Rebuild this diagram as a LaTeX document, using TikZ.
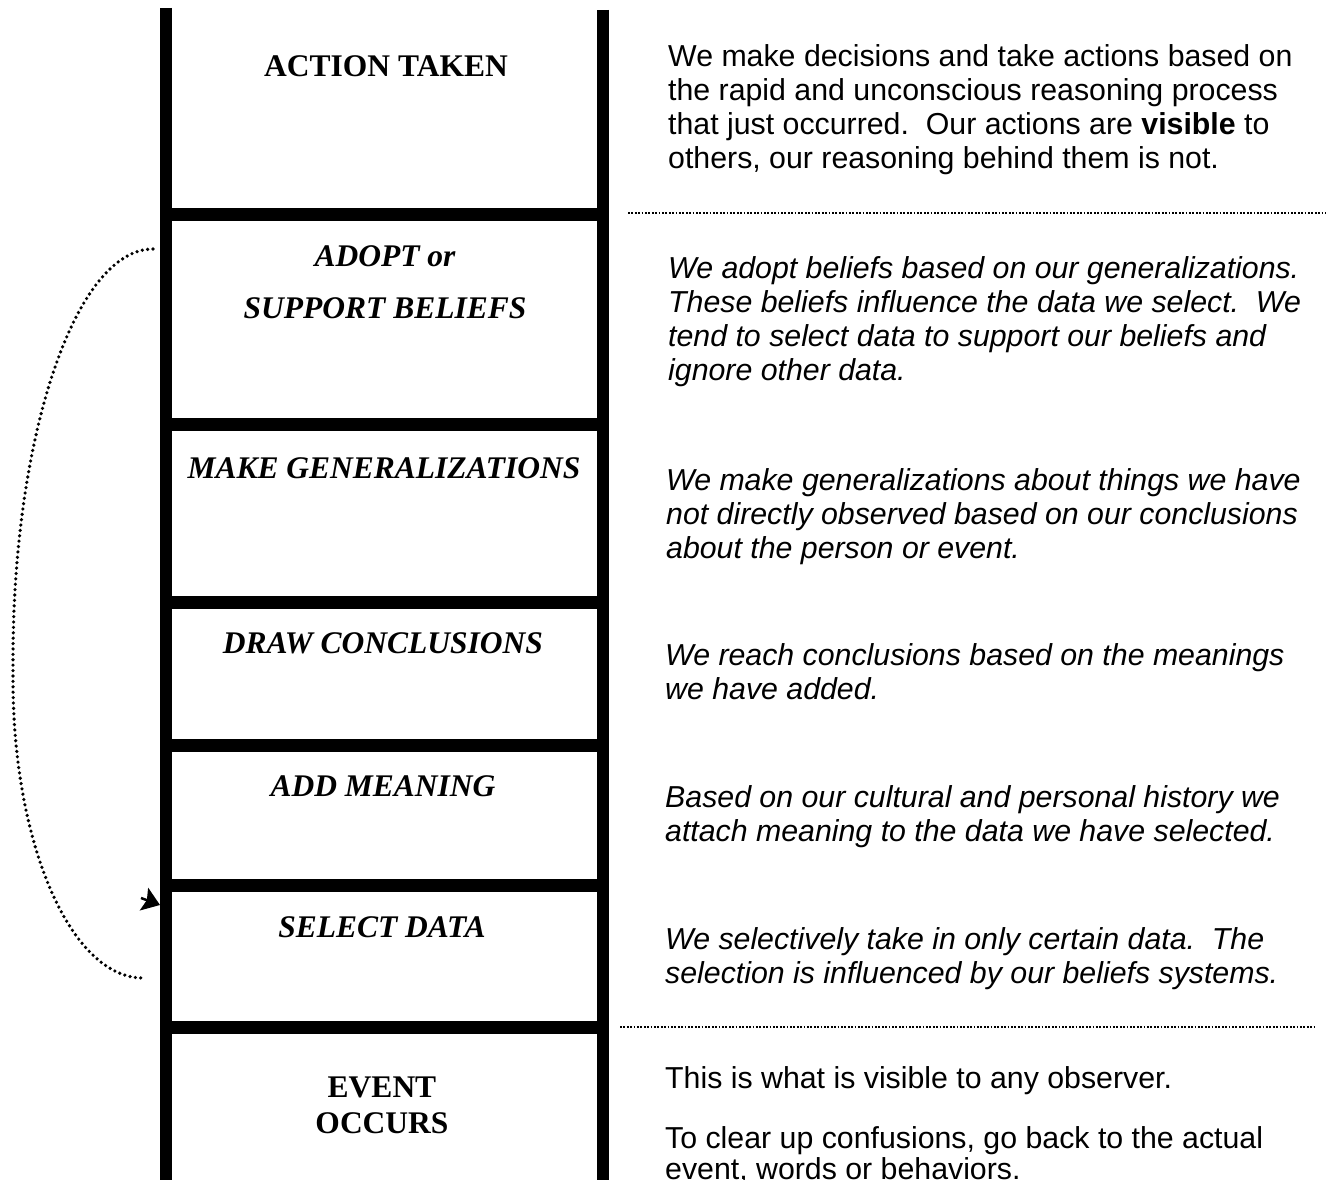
\documentclass[tikz,border=0pt]{standalone}
\usepackage{fontspec}
\setmainfont{Liberation Serif}
\newfontfamily\descfont{Liberation Sans}
\usetikzlibrary{arrows.meta}

\begin{document}
\begin{tikzpicture}[x=1pt,y=-1pt,
  rail/.style={line width=12pt},
  rung/.style={line width=13pt},
  rungtitle/.style={font=\fontsize{31.5}{36}\selectfont\bfseries, anchor=base, inner sep=0pt},
  rungtitleit/.style={rungtitle, font=\fontsize{31.5}{36}\selectfont\bfseries\itshape},
  desc/.style={font=\descfont\fontsize{30.3}{34}\selectfont, anchor=base west, inner sep=0pt},
  descit/.style={desc, font=\descfont\fontsize{30.3}{34}\selectfont\itshape},
  sepline/.style={line width=2.6pt, dash pattern=on 1.8pt off 1.6pt},
  loopline/.style={line width=3.6pt, line cap=round, dash pattern=on 0pt off 5.4pt},
]
% page
\fill[white] (0,0) rectangle (1326,1180);
\useasboundingbox (0,0) rectangle (1326,1180);

% ladder rails
\draw[rail] (166,8) -- (166,1190);
\draw[rail] (603,10) -- (603,1190);

% ladder rungs
\foreach \y in {214,424,602,745,885,1027}
  \draw[rung] (160,\y) -- (609,\y);

% rung titles
\node[rungtitle] (action) at (386,77) {ACTION TAKEN};
\node[rungtitleit] (adopt) at (385,266) {ADOPT or};
\node[rungtitleit] (support) at (385,318) {SUPPORT BELIEFS};
\node[rungtitleit] (general) at (384,478) {MAKE GENERALIZATIONS};
\node[rungtitleit] (conclude) at (383,653) {DRAW CONCLUSIONS};
\node[rungtitleit] (meaning) at (383,796) {ADD MEANING};
\node[rungtitleit] (select) at (382,937) {SELECT DATA};
\node[rungtitle] (event) at (382,1097) {EVENT};
\node[rungtitle] (occurs) at (382,1133) {OCCURS};

% separators on the right
\coordinate (sepAa) at (628,213);
\coordinate (sepAb) at (1326,213);
\coordinate (sepBa) at (620,1027);
\coordinate (sepBb) at (1314,1027);
\draw[sepline] (sepAa) -- (sepAb);
\draw[sepline] (sepBa) -- (sepBb);

% descriptions
\node[desc] (d1a) at (668,67) {We make decisions and take actions based on};
\node[desc] (d1b) at (668,101) {the rapid and unconscious reasoning process};
\node[desc] (d1c) at (668,135) {that just occurred.\ \ Our actions are \textbf{visible} to};
\node[desc] (d1d) at (668,169) {others, our reasoning behind them is not.};

\node[descit] (d2a) at (668,278) {We adopt beliefs based on our generalizations.};
\node[descit] (d2b) at (668,312) {These beliefs influence the data we select.\ \ We};
\node[descit] (d2c) at (668,346) {tend to select data to support our beliefs and};
\node[descit] (d2d) at (668,380) {ignore other data.};

\node[descit] (d3a) at (666,490) {We make generalizations about things we have};
\node[descit] (d3b) at (666,524) {not directly observed based on our conclusions};
\node[descit] (d3c) at (666,558) {about the person or event.};

\node[descit] (d4a) at (665,665) {We reach conclusions based on the meanings};
\node[descit] (d4b) at (665,699) {we have added.};

\node[descit] (d5a) at (665,807) {Based on our cultural and personal history we};
\node[descit] (d5b) at (665,841) {attach meaning to the data we have selected.};

\node[descit] (d6a) at (665,949) {We selectively take in only certain data.\ \ The};
\node[descit] (d6b) at (665,983) {selection is influenced by our beliefs systems.};

\node[desc] (d7a) at (665,1088) {This is what is visible to any observer.};
\node[desc] (d7b) at (665,1148) {To clear up confusions, go back to the actual};
\node[desc] (d7c) at (665,1179) {event, words or behaviors.};

% feedback loop from beliefs back to data selection
\coordinate (loopstart) at (153,249);
\coordinate (loopmid) at (13,660);
\coordinate (loopmidb) at (13,680);
\coordinate (loopend) at (143,978);
\draw[loopline] (loopstart) .. controls (76,249) and (13,434) .. (loopmid)
  -- (loopmidb) .. controls (13,844) and (71,978) .. (loopend);

% arrow into the SELECT DATA rung
\coordinate (arrtail) at (141,898);
\coordinate (arrtip) at (160,905);
\draw[line width=2.5pt, -{Stealth[length=17pt,width=24pt,inset=3pt]}] (arrtail) -- (arrtip);
\end{tikzpicture}
\end{document}
